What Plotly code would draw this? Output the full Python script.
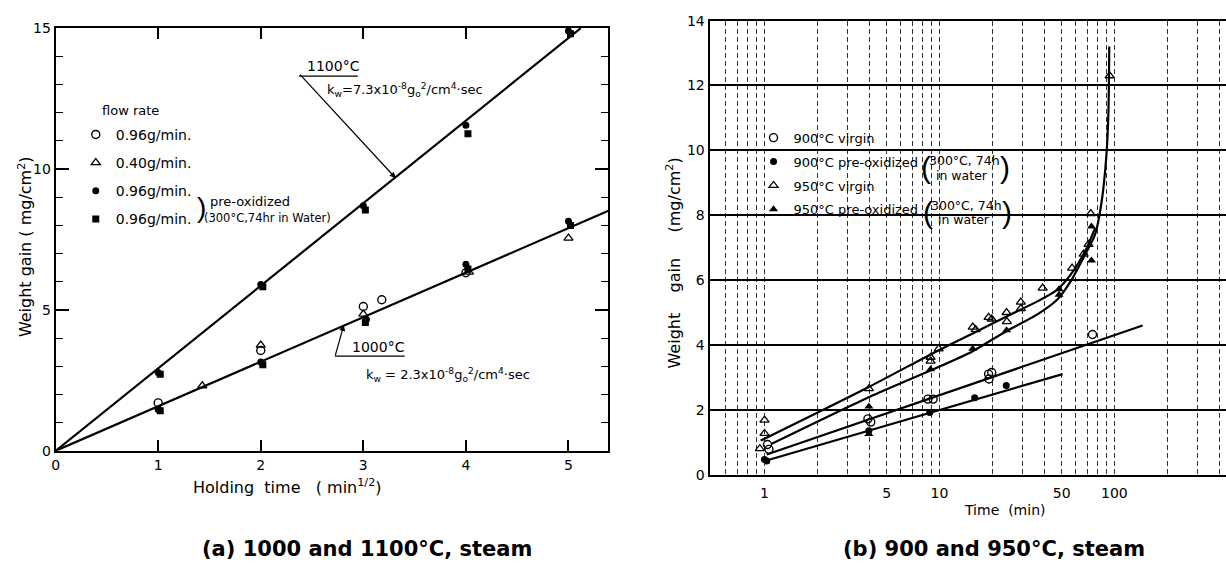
import plotly.graph_objects as go

W, H = 1226, 575

# ---------------- (a) 1000 / 1100 °C : weight gain vs sqrt(time) ----------------
a_open096_x = [1.0, 2.0, 3.0, 3.18, 4.0]
a_open096_y = [1.70, 3.56, 5.12, 5.36, 6.32]
a_tri040_x = [1.43, 2.0, 3.0, 4.03, 5.0]
a_tri040_y = [2.31, 3.75, 4.85, 6.34, 7.55]
a_dotpre_x = [1.0, 2.0, 3.03, 4.0, 5.0, 1.0, 2.0, 3.0, 4.0, 5.0]
a_dotpre_y = [1.47, 3.15, 4.66, 6.62, 8.15, 2.78, 5.90, 8.70, 11.55, 14.90]
a_sqpre_x = [1.02, 2.02, 3.02, 4.02, 5.02, 1.02, 2.02, 3.02, 4.02, 5.02]
a_sqpre_y = [1.42, 3.05, 4.55, 6.45, 8.00, 2.72, 5.82, 8.55, 11.25, 14.80]
a_fit1100_x = [0.0, 5.12]
a_fit1100_y = [0.0, 15.0]
a_fit1000_x = [0.0, 5.39]
a_fit1000_y = [0.0, 8.52]
a_xticks = [0, 1, 2, 3, 4, 5]
a_yticks = [0, 5, 10, 15]

# ---------------- (b) 900 / 950 °C : weight gain vs log time ----------------
b_900v_x = [1.04, 1.06, 3.9, 4.05, 8.6, 9.2, 19.1, 19.9, 19.2, 75.0]
b_900v_y = [0.93, 0.78, 1.72, 1.62, 2.33, 2.33, 3.10, 3.15, 2.95, 4.32]
b_900p_x = [1.0, 1.03, 3.95, 8.8, 15.9, 24.1]
b_900p_y = [0.47, 0.42, 1.35, 1.92, 2.37, 2.75]
b_950v_x = [1.0, 1.0, 0.94, 3.95, 8.9, 8.9, 9.9, 15.5, 16.1, 19.1, 19.9, 24.2, 24.3,
            29.2, 29.2, 38.9, 57.3, 66.7, 71.2, 73.3, 94.0]
b_950v_y = [1.68, 1.27, 0.80, 2.65, 3.62, 3.50, 3.88, 4.55, 4.47, 4.85, 4.80, 5.00, 4.72,
            5.32, 5.12, 5.75, 6.37, 6.80, 7.10, 8.05, 12.30]
b_950p_x = [3.95, 3.95, 8.9, 15.5, 24.2, 48.3, 48.3, 74.0, 74.0]
b_950p_y = [2.10, 1.25, 3.25, 3.88, 4.45, 5.72, 5.55, 7.65, 6.60]

b_line900v_x = [1.03, 145.0]
b_line900v_y = [0.62, 4.60]
b_line900p_x = [1.05, 50.6]
b_line900p_y = [0.45, 3.10]
b_curve950v_x = [0.95, 4.0, 9.6, 16.1, 24.7, 36.5, 47.0, 58.6, 69.6, 77.5]
b_curve950v_y = [1.05, 2.72, 3.80, 4.40, 4.90, 5.35, 5.70, 6.30, 7.00, 7.60]
b_curve950p_x = [1.1, 4.0, 8.8, 15.4, 23.7, 36.5, 47.2, 56.1, 66.7, 77.5, 84.5, 90.2, 92.5, 93.5]
b_curve950p_y = [0.95, 2.40, 3.20, 3.80, 4.40, 4.95, 5.40, 5.95, 6.70, 7.40, 8.40, 9.90, 11.2, 13.2]

b_grid_x = [0.6, 0.7, 0.8, 0.9, 1, 2, 3, 4, 5, 6, 7, 8, 9, 10, 20, 30, 40, 50, 60, 70, 80, 90,
            100, 200, 300, 400]
b_xlabels = {1: "1", 5: "5", 10: "10", 50: "50", 100: "100"}
b_yticks = [0, 2, 4, 6, 8, 10, 12, 14]

FONT = "DejaVu Sans"


def px(x, y):
    """pixel position in the page -> paper coordinates"""
    return x / W, 1 - y / H


fig = go.Figure()

# ---- panel (a) traces
line_a = dict(color="black", width=2.2)
fig.add_trace(go.Scatter(x=a_fit1100_x, y=a_fit1100_y, mode="lines", line=line_a,
                         showlegend=False, xaxis="x", yaxis="y"))
fig.add_trace(go.Scatter(x=a_fit1000_x, y=a_fit1000_y, mode="lines", line=line_a,
                         showlegend=False, xaxis="x", yaxis="y"))
fig.add_trace(go.Scatter(x=a_open096_x, y=a_open096_y, mode="markers", name="0.96g/min.",
                         marker=dict(symbol="circle-open", size=8, color="black", line=dict(width=1.4)),
                         legend="legend", legendgroup="a1"))
fig.add_trace(go.Scatter(x=a_tri040_x, y=a_tri040_y, mode="markers", name="0.40g/min.",
                         marker=dict(symbol="triangle-up-open", size=8, color="black", line=dict(width=1.3)),
                         legend="legend", legendgroup="a2"))
fig.add_trace(go.Scatter(x=a_dotpre_x, y=a_dotpre_y, mode="markers", name="0.96g/min.",
                         marker=dict(symbol="circle", size=7, color="black"),
                         legend="legend", legendgroup="a3"))
fig.add_trace(go.Scatter(x=a_sqpre_x, y=a_sqpre_y, mode="markers", name="0.96g/min.",
                         marker=dict(symbol="square", size=7, color="black"),
                         legend="legend", legendgroup="a4"))

# ---- panel (b) traces
line_b = dict(color="black", width=2.2)
for xs, ys, shape in [(b_line900v_x, b_line900v_y, "linear"),
                      (b_line900p_x, b_line900p_y, "linear"),
                      (b_curve950v_x, b_curve950v_y, "spline"),
                      (b_curve950p_x, b_curve950p_y, "spline")]:
    fig.add_trace(go.Scatter(x=xs, y=ys, mode="lines", line=dict(line_b, shape=shape, smoothing=0.7),
                             showlegend=False, xaxis="x2", yaxis="y2"))

fig.add_trace(go.Scatter(x=b_900v_x, y=b_900v_y, mode="markers", name="900°C virgin",
                         marker=dict(symbol="circle-open", size=8, color="black", line=dict(width=1.4)),
                         xaxis="x2", yaxis="y2", legend="legend2", legendgroup="b1"))
fig.add_trace(go.Scatter(x=b_900p_x, y=b_900p_y, mode="markers", name="900°C pre-oxidized",
                         marker=dict(symbol="circle", size=7, color="black"),
                         xaxis="x2", yaxis="y2", legend="legend2", legendgroup="b2"))
fig.add_trace(go.Scatter(x=b_950v_x, y=b_950v_y, mode="markers", name="950°C virgin",
                         marker=dict(symbol="triangle-up-open", size=8, color="black", line=dict(width=1.3)),
                         xaxis="x2", yaxis="y2", legend="legend2", legendgroup="b3"))
fig.add_trace(go.Scatter(x=b_950p_x, y=b_950p_y, mode="markers", name="950°C pre-oxidized",
                         marker=dict(symbol="triangle-up", size=8, color="black"),
                         xaxis="x2", yaxis="y2", legend="legend2", legendgroup="b4"))

tickfont = dict(family=FONT, size=14, color="black")

# ---- axes
ax_x0, ax_x1 = 51.8, 606.0
ax_y0, ax_y1 = 455.5, 20.7
bx_x0, bx_x1 = 708.0, 1226.0
bx_y0, bx_y1 = 480.0, 13.0

fig.update_layout(
    width=W, height=H, margin=dict(l=0, r=0, t=0, b=0),
    paper_bgcolor="white", plot_bgcolor="white",
    font=dict(family=FONT, color="black"),
    xaxis=dict(domain=[ax_x0 / W, ax_x1 / W], range=[0, (ax_x1 - ax_x0) / 102.9],
               tickvals=a_xticks, ticks="inside", ticklen=11, tickwidth=1.5, tickcolor="black",
               showline=True, linecolor="black", linewidth=2, mirror="ticks",
               showgrid=False, zeroline=False, tickfont=tickfont, anchor="y"),
    yaxis=dict(domain=[1 - ax_y0 / H, 1 - ax_y1 / H], range=[0, 15],
               tickvals=a_yticks, ticks="inside", ticklen=13, tickwidth=1.5, tickcolor="black",
               minor=dict(dtick=1, ticks="inside", ticklen=7, tickwidth=1.3, tickcolor="black"),
               showline=True, linecolor="black", linewidth=2, mirror="ticks",
               showgrid=False, zeroline=False, tickfont=tickfont, anchor="x"),
    xaxis2=dict(domain=[bx_x0 / W, bx_x1 / W], type="log",
                range=[(bx_x0 - 763) / 175.5, (bx_x1 - 763) / 175.5],
                tickvals=b_grid_x, ticktext=[b_xlabels.get(v, "") for v in b_grid_x],
                ticks="", showgrid=True, gridcolor="#333333", gridwidth=1, griddash="5px,3px",
                showline=True, linecolor="black", linewidth=2.2, mirror=True,
                zeroline=False, tickfont=tickfont, ticklabelstandoff=4, anchor="y2"),
    yaxis2=dict(domain=[1 - bx_y0 / H, 1 - bx_y1 / H], range=[0, 14],
                tickvals=b_yticks, ticks="", showgrid=True, gridcolor="black", gridwidth=1.6,
                showline=True, linecolor="black", linewidth=2.2, mirror=False,
                zeroline=False, tickfont=tickfont, anchor="x2"),
    legend=dict(x=72 / W, y=1 - 114 / H, xanchor="left", yanchor="top",
                bgcolor="rgba(0,0,0,0)", font=dict(family=FONT, size=14, color="black"),
                tracegroupgap=7, itemclick=False),
    legend2=dict(x=752 / W, y=1 - 118 / H, xanchor="left", yanchor="top",
                 bgcolor="rgba(0,0,0,0)", font=dict(family=FONT, size=13, color="black"),
                 tracegroupgap=4, itemclick=False),
)

ann = []


def text(x, y, s, size=14, xanchor="center", angle=0, bold=False, family=FONT):
    xp, yp = px(x, y)
    ann.append(dict(x=xp, y=yp, xref="paper", yref="paper", text=s, showarrow=False,
                    xanchor=xanchor, yanchor="middle", textangle=angle,
                    font=dict(family=family, size=size, color="black",
                              weight="bold" if bold else "normal")))


# panel (a) labels
text(21, 245, "Weight gain ( mg/cm<sup>2</sup>)", size=16, angle=-90)
text(284, 492, "Holding\u00a0 time \u00a0\u00a0( min<sup>1/2</sup>)", size=16)
text(96, 105, "flow rate", size=13, xanchor="left")
text(198, 205, ")", size=28, family="Liberation Sans")
text(205, 199, "pre-oxidized", size=13, xanchor="left")
text(199, 216, "(300°C,74hr in Water)", size=11.5, xanchor="left")
text(302, 60, "1100°C", size=14, xanchor="left")
text(322, 84, "k<sub>w</sub>=7.3x10<sup>-8</sup>g<sub>o</sub><sup>2</sup>/cm<sup>4</sup>·sec",
     size=13, xanchor="left")
text(347, 349, "1000°C", size=14, xanchor="left")
text(361, 378, "k<sub>w</sub> = 2.3x10<sup>-8</sup>g<sub>o</sub><sup>2</sup>/cm<sup>4</sup>·sec",
     size=13, xanchor="left")

# leader arrows of panel (a)
for tip, tail in [((393, 175), (296, 70)), ((341, 326), (332, 358))]:
    xp, yp = px(*tip)
    ann.append(dict(x=xp, y=yp, xref="paper", yref="paper", text="", showarrow=True,
                    ax=tail[0] - tip[0], ay=tail[1] - tip[1], arrowhead=2, arrowsize=1,
                    arrowwidth=1.2, arrowcolor="black"))

# panel (b) labels
text(672, 262, "Weight\u00a0\u00a0\u00a0 gain\u00a0\u00a0\u00a0\u00a0 (mg/cm<sup>2</sup>)", size=16, angle=-90)
text(1004, 516, "Time\u00a0\u00a0(min)", size=14)
for cy, cx0, cx1, tcx in [(164, 925, 1004, 964), (210, 927, 1006, 966)]:
    text(cx0, cy, "(", size=30, family="Liberation Sans")
    text(cx1, cy, ")", size=30, family="Liberation Sans")
    text(tcx, cy - 7, "300°C, 74h", size=12.5)
    text(tcx - 3, cy + 8, "in water", size=12.5)

# captions
text(364, 556, "(a) 1000 and 1100°C, steam", size=21, bold=True)
text(993, 556, "(b) 900 and 950°C, steam", size=21, bold=True)

fig.update_layout(annotations=ann)

shapes = []
# underlines of the rate labels
for (x0, y0), (x1, y1) in [((296, 70), (355, 70)), ((332, 358), (402, 358))]:
    a0, b0 = px(x0, y0)
    a1, b1 = px(x1, y1)
    shapes.append(dict(type="line", xref="paper", yref="paper", x0=a0, y0=b0, x1=a1, y1=b1,
                       line=dict(color="black", width=1.3)))
# blank panel behind the legend of (b)
a0, b0 = px(760, 124)
a1, b1 = px(1016, 228)
shapes.append(dict(type="rect", xref="paper", yref="paper", x0=a0, y0=b1, x1=a1, y1=b0,
                   fillcolor="white", line=dict(width=0), layer="between"))
fig.update_layout(shapes=shapes)

fig.write_html("out.html")
